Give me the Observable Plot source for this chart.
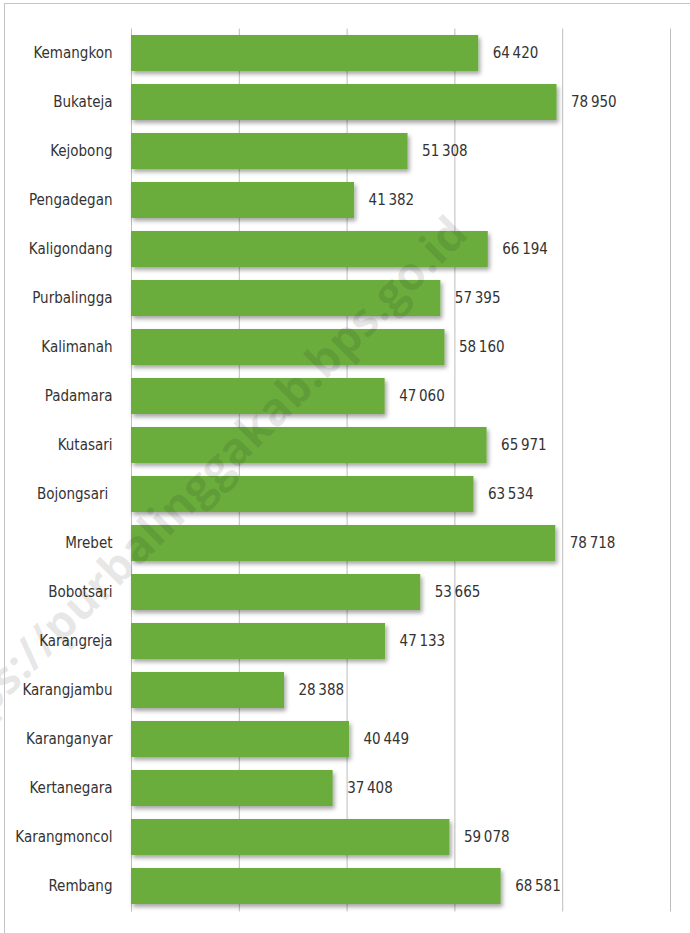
<!DOCTYPE html>
<html>
<head>
<meta charset="utf-8">
<script src="https://cdn.jsdelivr.net/npm/d3@7"></script>
<script src="https://cdn.jsdelivr.net/npm/@observablehq/plot@0.6"></script>
<style>
  html, body { margin: 0; padding: 0; background: #fff; }
  #wrap { position: relative; width: 690px; height: 933px; overflow: hidden; }
  #frame { position: absolute; left: 4px; top: 3px; width: 700px; height: 940px;
           border-top: 1.5px solid #c4c4c4; border-left: 1.5px solid #c4c4c4; pointer-events: none; }
  #chart { position: absolute; left: 0; top: 0; }
</style>
</head>
<body>
<div id="wrap"><div id="chart"></div><div id="frame"></div></div>
<script>
const districts = ["Kemangkon","Bukateja","Kejobong","Pengadegan","Kaligondang","Purbalingga","Kalimanah","Padamara","Kutasari","Bojongsari ","Mrebet","Bobotsari","Karangreja","Karangjambu","Karanganyar","Kertanegara","Karangmoncol","Rembang"];
const values = [64420,78950,51308,41382,66194,57395,58160,47060,65971,63534,78718,53665,47133,28388,40449,37408,59078,68581];
const xTicks = [0,20000,40000,60000,80000,100000];
const watermark = "https://purbalinggakab.bps.go.id";

const data = districts.map((name, i) => ({name, value: values[i]}));
const fmt = v => d3.format(",")(v).replace(/,/g, "\u2009");
const FONT = "'Liberation Sans Narrow','DejaVu Sans Condensed','Roboto Condensed',sans-serif";

const chart = Plot.plot({
  width: 690,
  height: 933,
  marginLeft: 131,
  marginRight: 20,
  marginTop: 28.5,
  marginBottom: 21.5,
  style: {fontFamily: FONT, fontSize: "15px", color: "#333", background: "transparent"},
  x: {domain: [0, 100000], axis: null},
  y: {domain: districts, paddingInner: 0.265, paddingOuter: 0.1325, label: null, tickSize: 0, tickPadding: 19},
  marks: [
    Plot.gridX(xTicks, {stroke: "#bdbdbd", strokeOpacity: 1, strokeWidth: 1}),
    Plot.barX(data, {x: "value", y: "name", fill: "#6aad3e"}),
    Plot.text(data, {x: "value", y: "name", text: d => fmt(d.value), textAnchor: "start", dx: 14, fill: "#333", fontSize: 15})
  ]
});
document.getElementById("chart").appendChild(chart);

// drop shadow on bars
const svg = d3.select(chart);
const defs = svg.insert("defs", ":first-child");
const f = defs.append("filter").attr("id", "shadow").attr("x", "-5%").attr("y", "-20%").attr("width", "115%").attr("height", "160%");
f.append("feDropShadow").attr("dx", 2).attr("dy", 3).attr("stdDeviation", 2).attr("flood-color", "#000").attr("flood-opacity", 0.35);
svg.selectAll("g[aria-label='bar']").attr("filter", "url(#shadow)");

// watermark
svg.append("text")
  .attr("transform", "translate(470,236) rotate(-45)")
  .attr("text-anchor", "end")
  .attr("font-family", "'Open Sans', 'DejaVu Sans', sans-serif")
  .attr("font-weight", "bold")
  .attr("font-size", 46)
  .attr("fill", "#000")
  .attr("fill-opacity", 0.09)
  .text(watermark);
</script>
</body>
</html>
